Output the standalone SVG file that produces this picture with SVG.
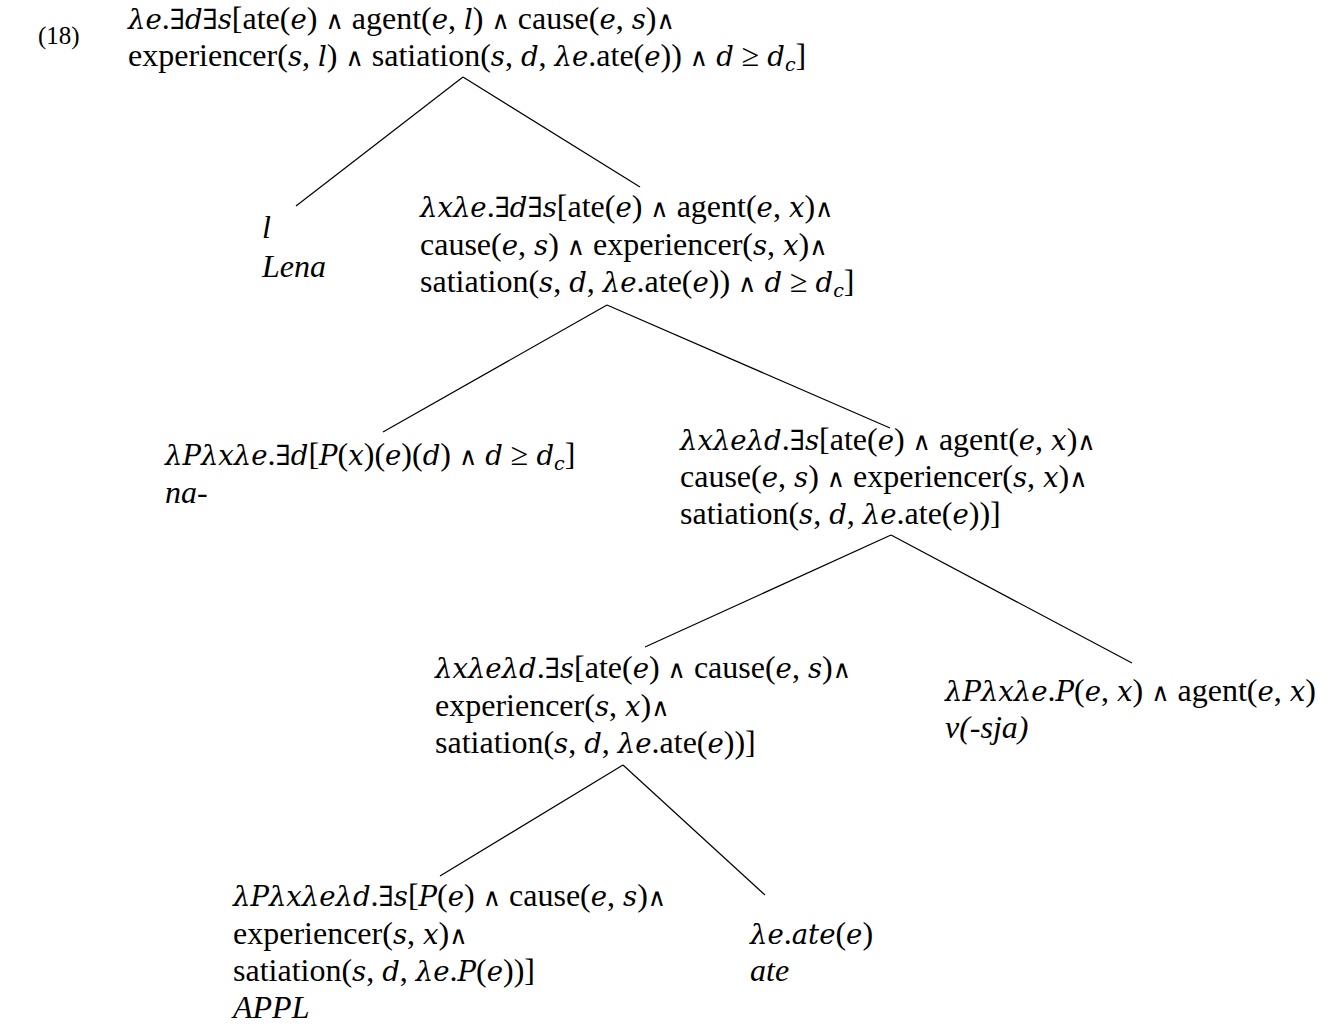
<svg xmlns="http://www.w3.org/2000/svg" width="1333" height="1026" viewBox="0 0 1333 1026">
<style>
text{font-family:"Liberation Serif","Times New Roman",serif;font-size:32px;fill:#000}
.i{font-family:"DejaVu Serif",serif;font-style:italic;font-size:27.5px}
.t{font-style:italic}
.o{font-family:"DejaVu Serif",serif;font-size:25px;font-style:normal}
.q{font-family:"DejaVu Serif",serif;font-size:28px;font-style:normal}
.e{font-family:"DejaVu Serif",serif;font-size:19px;font-style:italic}
.edge{stroke:#000;stroke-width:1.2;fill:none}
</style>
<rect width="1333" height="1026" fill="#fff"/>
<g id="connectors">
<line class="edge" x1="463" y1="77" x2="296" y2="206"/>
<line class="edge" x1="463" y1="77" x2="640" y2="187"/>
<line class="edge" x1="607" y1="305" x2="383" y2="432"/>
<line class="edge" x1="607" y1="305" x2="890" y2="428"/>
<line class="edge" x1="891" y1="535" x2="645" y2="647"/>
<line class="edge" x1="891" y1="535" x2="1132" y2="663"/>
<line class="edge" x1="623" y1="765" x2="440" y2="876"/>
<line class="edge" x1="623" y1="765" x2="765" y2="895"/>
</g>
<g id="label18"><text x="38" y="44" style="font-size:25px">(18)</text></g>
<g id="root">
<text x="128" y="29"><tspan class="i">λe</tspan>.<tspan class="q">∃</tspan><tspan class="i">d</tspan><tspan class="q">∃</tspan><tspan class="i">s</tspan>[ate(<tspan class="i">e</tspan>) <tspan class="o">∧</tspan> agent(<tspan class="i">e</tspan>, <tspan class="i">l</tspan>) <tspan class="o">∧</tspan> cause(<tspan class="i">e</tspan>, <tspan class="i">s</tspan>)<tspan class="o">∧</tspan></text>
<text x="128" y="66">experiencer(<tspan class="i">s</tspan>, <tspan class="i">l</tspan>) <tspan class="o">∧</tspan> satiation(<tspan class="i">s</tspan>, <tspan class="i">d</tspan>, <tspan class="i">λe</tspan>.ate(<tspan class="i">e</tspan>)) <tspan class="o">∧</tspan> <tspan class="i">d</tspan> ≥ <tspan class="i">d</tspan><tspan class="e" dy="5">c</tspan><tspan dy="-5">]</tspan></text>
</g>
<g id="lena">
<text x="262" y="238" class="t">l</text>
<text x="262" y="277" class="t">Lena</text>
</g>
<g id="node2">
<text x="420" y="217"><tspan class="i">λxλe</tspan>.<tspan class="q">∃</tspan><tspan class="i">d</tspan><tspan class="q">∃</tspan><tspan class="i">s</tspan>[ate(<tspan class="i">e</tspan>) <tspan class="o">∧</tspan> agent(<tspan class="i">e</tspan>, <tspan class="i">x</tspan>)<tspan class="o">∧</tspan></text>
<text x="420" y="255">cause(<tspan class="i">e</tspan>, <tspan class="i">s</tspan>) <tspan class="o">∧</tspan> experiencer(<tspan class="i">s</tspan>, <tspan class="i">x</tspan>)<tspan class="o">∧</tspan></text>
<text x="420" y="292">satiation(<tspan class="i">s</tspan>, <tspan class="i">d</tspan>, <tspan class="i">λe</tspan>.ate(<tspan class="i">e</tspan>)) <tspan class="o">∧</tspan> <tspan class="i">d</tspan> ≥ <tspan class="i">d</tspan><tspan class="e" dy="5">c</tspan><tspan dy="-5">]</tspan></text>
</g>
<g id="na">
<text x="165" y="465"><tspan class="i">λPλxλe</tspan>.<tspan class="q">∃</tspan><tspan class="i">d</tspan>[<tspan class="i">P</tspan>(<tspan class="i">x</tspan>)(<tspan class="i">e</tspan>)(<tspan class="i">d</tspan>) <tspan class="o">∧</tspan> <tspan class="i">d</tspan> ≥ <tspan class="i">d</tspan><tspan class="e" dy="5">c</tspan><tspan dy="-5">]</tspan></text>
<text x="165" y="503" class="t">na-</text>
</g>
<g id="node3">
<text x="680" y="450"><tspan class="i">λxλeλd</tspan>.<tspan class="q">∃</tspan><tspan class="i">s</tspan>[ate(<tspan class="i">e</tspan>) <tspan class="o">∧</tspan> agent(<tspan class="i">e</tspan>, <tspan class="i">x</tspan>)<tspan class="o">∧</tspan></text>
<text x="680" y="487">cause(<tspan class="i">e</tspan>, <tspan class="i">s</tspan>) <tspan class="o">∧</tspan> experiencer(<tspan class="i">s</tspan>, <tspan class="i">x</tspan>)<tspan class="o">∧</tspan></text>
<text x="680" y="524">satiation(<tspan class="i">s</tspan>, <tspan class="i">d</tspan>, <tspan class="i">λe</tspan>.ate(<tspan class="i">e</tspan>))]</text>
</g>
<g id="node4">
<text x="435" y="678"><tspan class="i">λxλeλd</tspan>.<tspan class="q">∃</tspan><tspan class="i">s</tspan>[ate(<tspan class="i">e</tspan>) <tspan class="o">∧</tspan> cause(<tspan class="i">e</tspan>, <tspan class="i">s</tspan>)<tspan class="o">∧</tspan></text>
<text x="435" y="716">experiencer(<tspan class="i">s</tspan>, <tspan class="i">x</tspan>)<tspan class="o">∧</tspan></text>
<text x="435" y="753">satiation(<tspan class="i">s</tspan>, <tspan class="i">d</tspan>, <tspan class="i">λe</tspan>.ate(<tspan class="i">e</tspan>))]</text>
</g>
<g id="vsja">
<text x="945" y="701"><tspan class="i">λPλxλe</tspan>.<tspan class="i">P</tspan>(<tspan class="i">e</tspan>, <tspan class="i">x</tspan>) <tspan class="o">∧</tspan> agent(<tspan class="i">e</tspan>, <tspan class="i">x</tspan>)</text>
<text x="945" y="738" class="t">v(-sja)</text>
</g>
<g id="appl">
<text x="233" y="906"><tspan class="i">λPλxλeλd</tspan>.<tspan class="q">∃</tspan><tspan class="i">s</tspan>[<tspan class="i">P</tspan>(<tspan class="i">e</tspan>) <tspan class="o">∧</tspan> cause(<tspan class="i">e</tspan>, <tspan class="i">s</tspan>)<tspan class="o">∧</tspan></text>
<text x="233" y="944">experiencer(<tspan class="i">s</tspan>, <tspan class="i">x</tspan>)<tspan class="o">∧</tspan></text>
<text x="233" y="981">satiation(<tspan class="i">s</tspan>, <tspan class="i">d</tspan>, <tspan class="i">λe</tspan>.<tspan class="i">P</tspan>(<tspan class="i">e</tspan>))]</text>
<text x="233" y="1018" class="t">APPL</text>
</g>
<g id="ate">
<text x="750" y="944"><tspan class="i">λe</tspan>.<tspan class="i">ate</tspan>(<tspan class="i">e</tspan>)</text>
<text x="750" y="981" class="t">ate</text>
</g>
</svg>
